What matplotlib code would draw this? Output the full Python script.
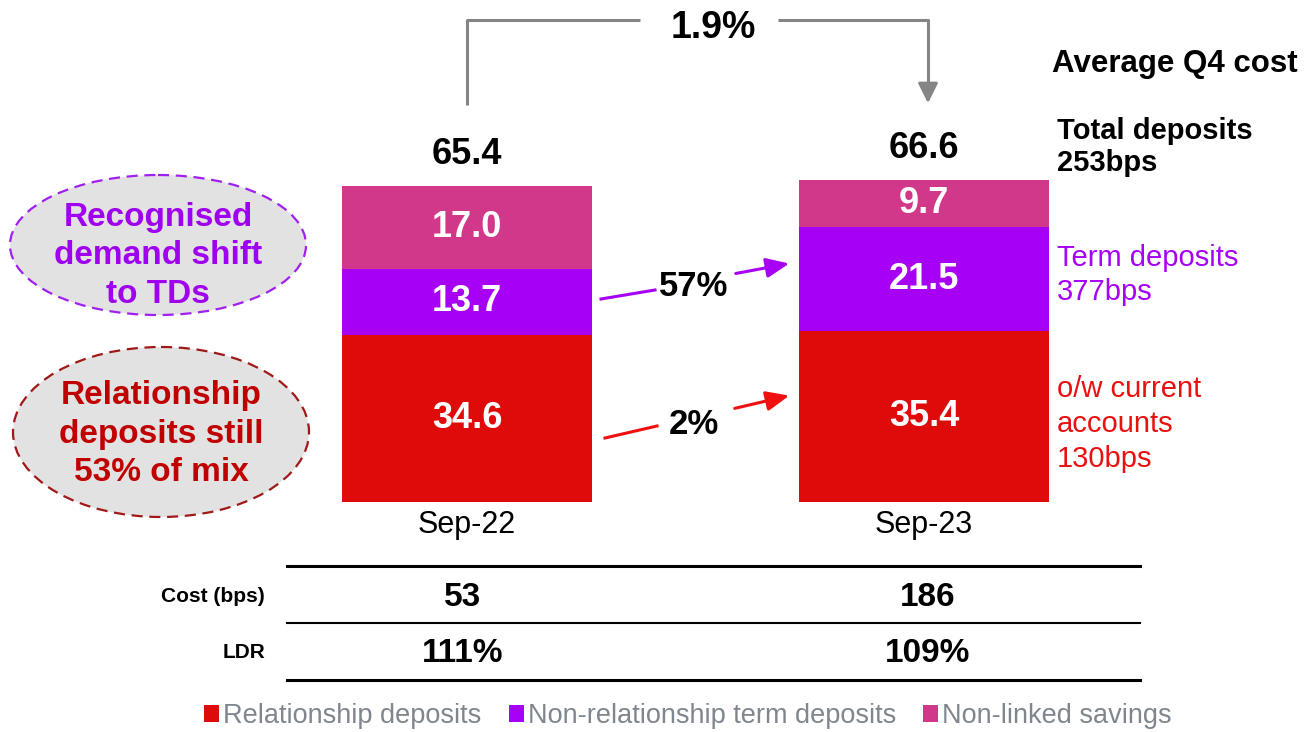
import matplotlib
matplotlib.use("Agg")
import matplotlib.pyplot as plt
from matplotlib.patches import Ellipse, FancyArrowPatch

plt.rcParams['font.family'] = ['Liberation Sans', 'DejaVu Sans']

# ---- data ----
categories = ["Sep-22", "Sep-23"]
relationship = [34.6, 35.4]
term_deposits = [13.7, 21.5]
linked_savings = [17.0, 9.7]
totals = [65.4, 66.6]
series_names = ["Relationship deposits", "Non-relationship term deposits", "Non-linked savings"]
cost_bps = ["53", "186"]
ldr = ["111%", "109%"]
total_growth = "1.9%"
td_growth = "57%"
rel_growth = "2%"

RED = "#DF0A0A"
PURPLE = "#A600F5"
PINK = "#D1388A"
GREY_TXT = "#7F868E"

W, H = 1309, 732
fig = plt.figure(figsize=(W / 100, H / 100), dpi=100)

# overlay axes in pixel coordinates for annotations
ov = fig.add_axes([0, 0, 1, 1])
ov.set_xlim(0, W)
ov.set_ylim(H, 0)
ov.axis("off")

# bar axes
px_per_unit = 316 / 65.4
y_bottom = 502
ax_h_units = 80
ax_h_px = ax_h_units * px_per_unit
left_px = 467 - 457 / 2
ax = fig.add_axes([left_px / W, (H - y_bottom) / H, 914 / W, ax_h_px / H])
ax.set_xlim(-0.5, 1.5)
ax.set_ylim(0, ax_h_units)
ax.axis("off")
ax.set_zorder(2)

x = [0, 1]
bw = 250 / 457
b1 = ax.bar(x, relationship, width=bw, color=RED, label=series_names[0])
bottom2 = relationship
b2 = ax.bar(x, term_deposits, width=bw, bottom=bottom2, color=PURPLE, label=series_names[1])
bottom3 = [a + b for a, b in zip(relationship, term_deposits)]
b3 = ax.bar(x, linked_savings, width=bw, bottom=bottom3, color=PINK, label=series_names[2])

VS = 26
for i in range(2):
    ax.text(x[i], relationship[i] / 2, f"{relationship[i]:.1f}", ha="center", va="center",
            color="white", fontsize=VS, fontweight="bold")
    ax.text(x[i], bottom2[i] + term_deposits[i] / 2, f"{term_deposits[i]:.1f}", ha="center", va="center",
            color="white", fontsize=VS, fontweight="bold")
    ax.text(x[i], bottom3[i] + linked_savings[i] / 2, f"{linked_savings[i]:.1f}", ha="center", va="center",
            color="white", fontsize=VS, fontweight="bold")
    ax.text(x[i], totals[i] + 6.6, f"{totals[i]:.1f}", ha="center", va="center",
            color="black", fontsize=VS, fontweight="bold")

# category labels
for cx, lab in zip([467, 924], categories):
    ov.text(cx, 525, lab, ha="center", va="center", fontsize=22, color="black")

# top bracket
g = "#858585"
ov.plot([467, 467, 640], [105, 20, 20], color=g, lw=2.2, solid_capstyle="butt")
ov.plot([778, 928, 928], [20, 20, 92], color=g, lw=2.2, solid_capstyle="butt")
ov.add_patch(FancyArrowPatch((928, 88), (928, 106), arrowstyle="-|>,head_length=12,head_width=6",
                             color=g, lw=2.2, mutation_scale=1))
ov.text(713, 28, total_growth, ha="center", va="center", fontsize=27, fontweight="bold")

# growth arrows
ov.plot([601, 655], [299, 290], color=PURPLE, lw=2.2)
ov.add_patch(FancyArrowPatch((733, 274), (792, 263), arrowstyle="-|>,head_length=14,head_width=6",
                             color=PURPLE, lw=2.2, mutation_scale=1))
ov.text(694, 287, td_growth, ha="center", va="center", fontsize=25, fontweight="bold")
ov.plot([605, 657], [438, 426], color="#F01010", lw=2.2)
ov.add_patch(FancyArrowPatch((732, 409), (792, 395), arrowstyle="-|>,head_length=14,head_width=6",
                             color="#F01010", lw=2.2, mutation_scale=1))
ov.text(694, 425, rel_growth, ha="center", va="center", fontsize=25, fontweight="bold")

# ellipses
ov.add_patch(Ellipse((158, 245), 296, 140, facecolor="#E2E2E2", edgecolor="#A020F0",
                     lw=1.6, linestyle=(0, (5, 3))))
ov.text(158, 256, "Recognised\ndemand shift\nto TDs", ha="center", va="center", fontsize=24,
        fontweight="bold", color="#A000F0", linespacing=1.32)
ov.add_patch(Ellipse((161, 432), 296, 170, facecolor="#E2E2E2", edgecolor="#A01818",
                     lw=1.6, linestyle=(0, (5, 3))))
ov.text(161, 434, "Relationship\ndeposits still\n53% of mix", ha="center", va="center", fontsize=24,
        fontweight="bold", color="#C00000", linespacing=1.32)

# right-side annotations
ov.text(1052, 64, "Average Q4 cost", ha="left", va="center", fontsize=22.5, fontweight="bold")
ov.text(1057, 147, "Total deposits\n253bps", ha="left", va="center", fontsize=21, fontweight="bold",
        linespacing=1.2)
ov.text(1057, 275, "Term deposits\n377bps", ha="left", va="center", fontsize=21, color="#A600F5",
        linespacing=1.28)
ov.text(1057, 424, "o/w current\naccounts\n130bps", ha="left", va="center", fontsize=21, color="#E81010",
        linespacing=1.32)

# table
ov.plot([287, 1140], [566, 566], color="black", lw=2.2)
ov.plot([287, 1140], [623, 623], color="black", lw=1.5)
ov.plot([287, 1140], [680, 680], color="black", lw=2.2)
ov.text(265, 597, "Cost (bps)", ha="right", va="center", fontsize=15, fontweight="bold")
ov.text(265, 653, "LDR", ha="right", va="center", fontsize=15, fontweight="bold")
for cx, c, l in zip([463, 928], cost_bps, ldr):
    ov.text(cx, 597, c, ha="center", va="center", fontsize=24, fontweight="bold")
    ov.text(cx, 653, l, ha="center", va="center", fontsize=24, fontweight="bold")

# legend
leg = fig.legend(handles=[b1, b2, b3], labels=series_names, loc="center",
                 bbox_to_anchor=(688 / W, (H - 716) / H), ncol=3, frameon=False,
                 prop={"size": 19.5}, handlelength=0.55, handleheight=0.55,
                 handletextpad=0.15, columnspacing=1.0, borderaxespad=0)
for t in leg.get_texts():
    t.set_color(GREY_TXT)

fig.savefig("out.png", dpi=100)
